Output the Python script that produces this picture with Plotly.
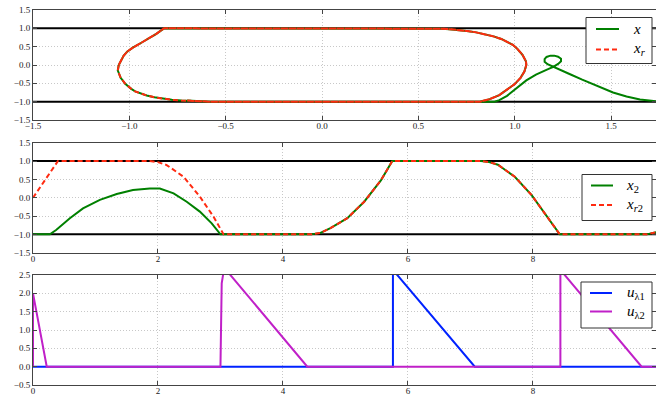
import plotly.graph_objects as go

# ---------------- data ----------------
# Panel 1: phase plane (x1 horizontal, x2 vertical)
# green trajectory: initial loop on the right
loop_x1 = [1.95, 1.80, 1.74, 1.65, 1.58, 1.51, 1.43, 1.35, 1.29, 1.24, 1.20, 1.17, 1.155, 1.155,
           1.165, 1.185, 1.205, 1.225, 1.24, 1.24, 1.225, 1.20, 1.17, 1.14, 1.11, 1.06, 1.01,
           0.96, 0.92, 0.895]
loop_x2 = [-1.0, -1.0, -0.995, -0.94, -0.86, -0.75, -0.58, -0.40, -0.26, -0.14, -0.05, 0.02,
           0.09, 0.16, 0.22, 0.255, 0.255, 0.225, 0.17, 0.10, 0.03, -0.05, -0.12, -0.19, -0.26,
           -0.42, -0.62, -0.84, -0.96, -1.0]
# left turn (bottom -> top)
left_lo_x1 = [-0.58, -0.63, -0.68, -0.73, -0.78, -0.83, -0.87, -0.91, -0.94, -0.97, -0.99, -1.02,
              -1.045, -1.06]
left_lo_x2 = [-1.0, -0.995, -0.985, -0.97, -0.95, -0.92, -0.88, -0.83, -0.78, -0.72, -0.65,
              -0.52, -0.35, -0.15]
left_hi_x1 = [-1.055, -1.045, -1.03, -1.01, -0.98, -0.94, -0.90, -0.86, -0.82]
left_hi_x2 = [0.0, 0.12, 0.25, 0.37, 0.48, 0.60, 0.72, 0.85, 1.0]
# right turn (top -> bottom)
right_x1 = [0.54, 0.58, 0.62, 0.66, 0.70, 0.75, 0.80, 0.85, 0.89, 0.93, 0.96, 0.99, 1.01, 1.04,
            1.058, 1.06, 1.05, 1.03, 1.00, 0.96, 0.92, 0.87, 0.82]
right_x2 = [1.0, 0.997, 0.99, 0.977, 0.96, 0.93, 0.89, 0.84, 0.78, 0.71, 0.63, 0.55, 0.46, 0.28,
            0.10, 0.0, -0.18, -0.35, -0.52, -0.68, -0.82, -0.93, -1.0]
end_x1 = [-0.58, -0.70]
end_x2 = [-1.0, -0.97]

# Panel 2: x2 and reference x_r2 versus time
t_x2 = [0, 0.27, 0.37, 0.48, 0.59, 0.80, 1.07, 1.34, 1.60, 1.87, 2.03, 2.25, 2.46, 2.67, 2.86,
        3.0, 4.45, 4.60, 4.76, 5.03, 5.30, 5.57, 5.75, 7.17, 7.30, 7.44, 7.71, 7.98, 8.19, 8.43,
        9.82, 9.90, 10.0]
x2 = [-1.0, -1.0, -0.88, -0.72, -0.56, -0.29, -0.06, 0.10, 0.21, 0.25, 0.25, 0.12, -0.11,
      -0.38, -0.70, -1.0, -1.0, -0.96, -0.83, -0.56, -0.11, 0.48, 1.0, 1.0, 0.97, 0.90, 0.57,
      0.07, -0.43, -1.0, -1.0, -0.97, -0.93]
t_xr2 = [0, 0.40, 1.87, 2.00, 2.14, 2.41, 2.67, 2.89, 3.05, 4.45, 4.60, 4.76, 5.03, 5.30, 5.57,
         5.75, 7.17, 7.30, 7.44, 7.71, 7.98, 8.19, 8.43, 9.82, 9.90, 10.0]
xr2 = [0.0, 1.0, 1.0, 0.97, 0.89, 0.57, 0.03, -0.52, -1.0, -1.0, -0.96, -0.83, -0.56, -0.11,
       0.48, 1.0, 1.0, 0.97, 0.90, 0.57, 0.07, -0.43, -1.0, -1.0, -0.97, -0.93]

# Panel 3: inputs
t_u1 = [0, 5.76, 5.76, 7.07, 10.0]
u1 = [0, 0, 2.64, 0, 0]
t_u2 = [0, 0, 0.22, 3.0, 3.02, 3.06, 4.39, 8.44, 8.44, 9.74, 10.0]
u2 = [0, 2.0, 0, 0, 2.27, 2.70, 0, 0, 2.64, 0, 0]

bounds = [-1.0, 1.0]

top_xrange = [-1.5, 1.733]
time_range = [0, 9.97]
top_xticks = [-1.5, -1.0, -0.5, 0.0, 0.5, 1.0, 1.5]
top_yticks = [-1.5, -1.0, -0.5, 0.0, 0.5, 1.0, 1.5]
t_ticks = [0, 2, 4, 6, 8, 10]
u_yticks = [-0.5, 0.0, 0.5, 1.0, 1.5, 2.0, 2.5]

legend1_labels = ['<i>x</i>', '<i>x</i><sub><i>r</i></sub>']
legend2_labels = ['<i>x</i><sub>2</sub>', '<i>x</i><sub><i>r</i>2</sub>']
legend3_labels = ['<i>u</i><sub>λ1</sub>', '<i>u</i><sub>λ2</sub>']

# build paths from the segments
green_x1 = loop_x1 + left_lo_x1 + left_hi_x1 + right_x1 + end_x1
green_x2 = loop_x2 + left_lo_x2 + left_hi_x2 + right_x2 + end_x2
red_x1 = left_hi_x1 + right_x1 + left_lo_x1 + left_hi_x1 + right_x1 + end_x1
red_x2 = left_hi_x2 + right_x2 + left_lo_x2 + left_hi_x2 + right_x2 + end_x2

GREEN = '#008000'
RED = '#ff2a10'
BLUE = '#0022ff'
MAG = '#c020c8'
SERIF = 'Liberation Serif'
DASH = '5px,3px'

fig = go.Figure()
# constraint bounds (black) first so they sit under the curves
for xa, ya, rng in [('x', 'y', top_xrange), ('x2', 'y2', time_range)]:
    for b in bounds:
        fig.add_trace(go.Scatter(x=rng, y=[b, b], mode='lines', showlegend=False,
                                 line=dict(color='black', width=2), xaxis=xa, yaxis=ya,
                                 hoverinfo='skip'))

fig.add_trace(go.Scatter(x=green_x1, y=green_x2, mode='lines', name=legend1_labels[0],
                         line=dict(color=GREEN, width=2), xaxis='x', yaxis='y'))
fig.add_trace(go.Scatter(x=red_x1, y=red_x2, mode='lines', name=legend1_labels[1],
                         line=dict(color=RED, width=2, dash=DASH), xaxis='x', yaxis='y'))
fig.add_trace(go.Scatter(x=t_x2, y=x2, mode='lines', name=legend2_labels[0],
                         line=dict(color=GREEN, width=2), xaxis='x2', yaxis='y2'))
fig.add_trace(go.Scatter(x=t_xr2, y=xr2, mode='lines', name=legend2_labels[1],
                         line=dict(color=RED, width=2, dash=DASH), xaxis='x2', yaxis='y2'))
fig.add_trace(go.Scatter(x=t_u1, y=u1, mode='lines', name=legend3_labels[0],
                         line=dict(color=BLUE, width=2), xaxis='x3', yaxis='y3'))
fig.add_trace(go.Scatter(x=t_u2, y=u2, mode='lines', name=legend3_labels[1],
                         line=dict(color=MAG, width=2), xaxis='x3', yaxis='y3'))

# ---- manual legends (matplotlib-style boxes) ----
L, R_, T, B = 33.0, 656.0, 10.0, 385.0
PW, PH = R_ - L, B - T


def px(xp):
    return (xp - L) / PW


def py(yp):
    return (B - yp) / PH


legends = [
    (586, 652, 17.5, 63.5, 596, 619, [29.0, 49.5], 631, legend1_labels, [GREEN, RED], [None, DASH]),
    (582, 652, 174.5, 220.5, 591, 613, [185.5, 205.0], 624, legend2_labels, [GREEN, RED], [None, DASH]),
    (581, 652, 282, 328, 590, 612, [293.0, 311.5], 625, legend3_labels, [BLUE, MAG], [None, None]),
]
for bx0, bx1, by0, by1, lx0, lx1, rows, tx, labels, cols, dashes in legends:
    fig.add_shape(type='rect', xref='paper', yref='paper', x0=px(bx0), x1=px(bx1), y0=py(by1),
                  y1=py(by0), line=dict(color='#333', width=1), fillcolor='white', layer='above')
    for ry, lab, col, dsh in zip(rows, labels, cols, dashes):
        ld = dict(color=col, width=2)
        if dsh:
            ld['dash'] = dsh
        fig.add_shape(type='line', xref='paper', yref='paper', x0=px(lx0), x1=px(lx1),
                      y0=py(ry), y1=py(ry), line=ld, layer='above')
        fig.add_annotation(xref='paper', yref='paper', x=px(tx), y=py(ry), text=lab,
                           showarrow=False, xanchor='left', yanchor='middle',
                           font=dict(family=SERIF, size=15, color='black'))

tickfont = dict(family=SERIF, size=9, color='#222')
axcommon = dict(showline=True, linecolor='#444', linewidth=1, mirror='ticks', ticks='inside',
                ticklen=4, tickcolor='#444', showgrid=True, gridcolor='#c8c8c8',
                griddash='1px,2px', gridwidth=1, zeroline=False, tickfont=tickfont,
                automargin=False)
xcommon = dict(axcommon, ticklabelstandoff=-3)


def fmt(vals):
    return [f'{v:.1f}'.replace('-', '\u2212') for v in vals]


fig.update_layout(
    width=656, height=396,
    margin=dict(l=33, r=0, t=10, b=11),
    plot_bgcolor='white', paper_bgcolor='white',
    showlegend=False,
    xaxis=dict(domain=[0, 1], anchor='y', range=top_xrange, tickvals=top_xticks,
               ticktext=fmt(top_xticks), **xcommon),
    yaxis=dict(domain=[(B - 120) / PH, 1.0], anchor='x', range=[-1.5, 1.5], tickvals=top_yticks,
               ticktext=fmt(top_yticks), **axcommon),
    xaxis2=dict(domain=[0, 1], anchor='y2', range=time_range, tickvals=t_ticks, **xcommon),
    yaxis2=dict(domain=[(B - 252.7) / PH, (B - 142.7) / PH], anchor='x2', range=[-1.5, 1.5],
                tickvals=top_yticks, ticktext=fmt(top_yticks), **axcommon),
    xaxis3=dict(domain=[0, 1], anchor='y3', range=time_range, tickvals=t_ticks, **xcommon),
    yaxis3=dict(domain=[0, (B - 275) / PH], anchor='x3', range=[-0.5, 2.5], tickvals=u_yticks,
                ticktext=fmt(u_yticks), **axcommon),
)

fig.write_html('out.html', config={'displayModeBar': False},
               post_script="document.body.style.margin='0';document.body.style.padding='0';")
